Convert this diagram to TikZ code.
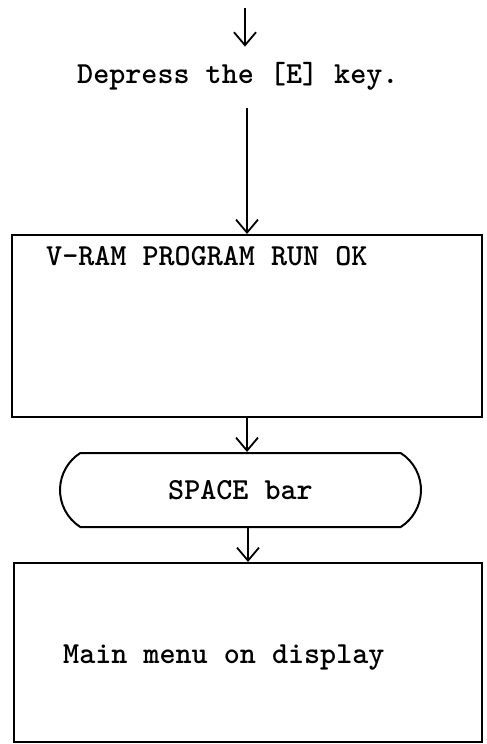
\documentclass[tikz,border=0pt]{standalone}
\usepackage{fontspec}
\usetikzlibrary{arrows.meta, positioning, shapes.misc}

\begin{document}
\begin{tikzpicture}[
  x=1pt, y=-1pt,
  font=\ttfamily\bfseries\fontsize{30.6}{36}\selectfont,
  every node/.style={inner sep=0pt},
  panel/.style={draw=black, line width=2pt},
  term/.style={draw=black, line width=2pt, rounded rectangle,
               rounded rectangle arc length=115,
               minimum width=361pt, minimum height=74pt},
  arrow/.style={-{Straight Barb[length=13pt, width=22pt, line width=1.8pt]},
                line width=1.8pt},
]
\useasboundingbox (0,0) rectangle (487,744);

\coordinate (start) at (245,8);
\node[anchor=base west] (depress) at (77,83) {Depress the [E] key.};

\node[panel, minimum width=470pt, minimum height=182pt] (run) at (247,326) {};
\node[anchor=base west] (runtxt) at (46,265) {V-RAM PROGRAM RUN OK};

\node[term] (space) at (240.5,490) {SPACE bar};

\node[panel, minimum width=468pt, minimum height=179pt] (menu) at (248,652.5) {};
\node[anchor=base west] (menutxt) at (63,663) {Main menu on display};

\draw[arrow, shorten >=15pt] (start) -- (start |- depress.north);
\draw[arrow, shorten <=18pt] (run.north |- depress.south) -- (run.north);
\draw[arrow] (run.south) -- (run.south |- space.north);
\draw[arrow] (menu.north |- space.south) -- (menu.north);

\end{tikzpicture}
\end{document}
